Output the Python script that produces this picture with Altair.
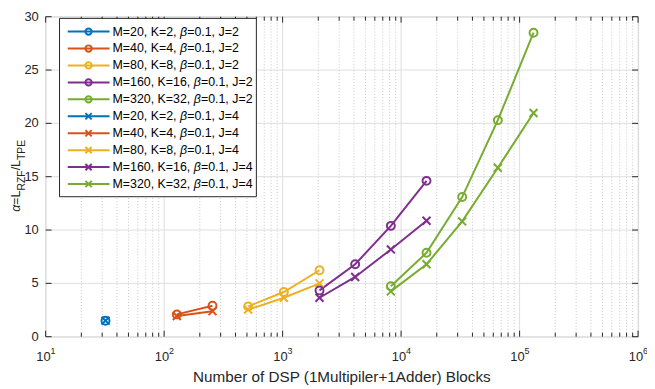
import altair as alt
import pandas as pd

# ---------------- data ----------------
series_keys = ["M=20, K=2", "M=40, K=4", "M=80, K=8", "M=160, K=16", "M=320, K=32"]
series_colors = ["#0072BD", "#D95319", "#EDB120", "#7E2F8E", "#77AC30"]

dsp_blue = [32]
alpha_blue_j2 = [1.5]
alpha_blue_j4 = [1.5]

dsp_orange = [128, 256]
alpha_orange_j2 = [2.09, 2.9]
alpha_orange_j4 = [1.94, 2.39]

dsp_yellow = [512, 1024, 2048]
alpha_yellow_j2 = [2.84, 4.19, 6.23]
alpha_yellow_j4 = [2.54, 3.65, 5.0]

dsp_purple = [2048, 4096, 8192, 16384]
alpha_purple_j2 = [4.34, 6.79, 10.39, 14.61]
alpha_purple_j4 = [3.65, 5.6, 8.18, 10.87]

dsp_green = [8192, 16384, 32768, 65536, 131072]
alpha_green_j2 = [4.73, 7.87, 13.09, 20.3, 28.5]
alpha_green_j4 = [4.25, 6.79, 10.81, 15.84, 20.97]

x_major_ticks = [10, 100, 1000, 10000, 100000, 1000000]
x_exponents = ["1", "2", "3", "4", "5", "6"]
x_minor_ticks = [k * 10 ** e for e in range(1, 6) for k in range(2, 10)]
y_ticks = [0, 5, 10, 15, 20, 25, 30]
x_title = "Number of DSP (1Multipiler+1Adder) Blocks"

# ---------------- build tables ----------------
CIRCLE = "circle"
XSHAPE = "M-1,-1L1,1M-1,1L1,-1"

all_dsp = [dsp_blue, dsp_orange, dsp_yellow, dsp_purple, dsp_green]
all_j2 = [alpha_blue_j2, alpha_orange_j2, alpha_yellow_j2, alpha_purple_j2, alpha_green_j2]
all_j4 = [alpha_blue_j4, alpha_orange_j4, alpha_yellow_j4, alpha_purple_j4, alpha_green_j4]

rows = []
for key, col, xs, a2, a4 in zip(series_keys, series_colors, all_dsp, all_j2, all_j4):
    for xv, yv in zip(xs, a2):
        rows.append({"series": key + " J2", "x": xv, "y": yv, "color": col, "shape": CIRCLE})
    for xv, yv in zip(xs, a4):
        rows.append({"series": key + " J4", "x": xv, "y": yv, "color": col, "shape": XSHAPE})
df = pd.DataFrame(rows)

# ---------------- layout constants ----------------
PAD_L, PAD_T, PAD_R, PAD_B = 38, 7, 9, 50
TOP = 8 + PAD_T          # page y of plot top
W, H = 598, 338 - TOP
TXT = "#262626"
GRID = "#dedede"
FONT = "Liberation Sans"
FS = 12.5

def py(page_y):
    return page_y - TOP

cw = {"M": 0.833, "=": 0.584, ",": 0.278, " ": 0.278, "K": 0.667, ".": 0.278, "J": 0.5}
for d in "0123456789":
    cw[d] = 0.556
def tw(s, fs):
    return sum(cw.get(c, 0.556) for c in s) * fs

xs_ = alt.Scale(type="log", domain=[10, 1000000], nice=False)
ys_ = alt.Scale(domain=[0, 30], nice=False, zero=False)

minor_df = pd.DataFrame({"v": x_minor_ticks})
major_df = pd.DataFrame({"v": x_major_ticks, "e": x_exponents})
yt_df = pd.DataFrame({"v": y_ticks})
one = pd.DataFrame({"a": [1]})

def X(f="v:Q"):
    return alt.X(f, scale=xs_, axis=None)
def Y(f="v:Q"):
    return alt.Y(f, scale=ys_, axis=None)

# grids
minor_grid = alt.Chart(minor_df).mark_rule(color="#c8c8c8", strokeDash=[1, 2], strokeWidth=1).encode(
    x=X(), y=alt.value(0), y2=alt.value(H))
x_grid = alt.Chart(major_df).mark_rule(color=GRID, strokeWidth=1).encode(
    x=X(), y=alt.value(0), y2=alt.value(H))
y_grid = alt.Chart(yt_df).mark_rule(color=GRID, strokeWidth=1).encode(
    y=Y(), x=alt.value(0), x2=alt.value(W))

# inward ticks
def xtick(d, length):
    b = alt.Chart(d).mark_rule(color=TXT, strokeWidth=1).encode(
        x=X(), y=alt.value(H), y2=alt.value(H - length))
    t = alt.Chart(d).mark_rule(color=TXT, strokeWidth=1).encode(
        x=X(), y=alt.value(0), y2=alt.value(length))
    return [b, t]

ytick_l = alt.Chart(yt_df).mark_rule(color=TXT, strokeWidth=1).encode(
    y=Y(), x=alt.value(0), x2=alt.value(6))
ytick_r = alt.Chart(yt_df).mark_rule(color=TXT, strokeWidth=1).encode(
    y=Y(), x=alt.value(W), x2=alt.value(W - 6))

# tick labels
x_lab = alt.Chart(major_df).mark_text(text="10", align="right", baseline="alphabetic", font=FONT,
                                      fontSize=13, color=TXT, dx=5).encode(
    x=X(), y=alt.value(py(362.7)))
x_sup = alt.Chart(major_df).mark_text(align="left", baseline="alphabetic", font=FONT,
                                      fontSize=9, color=TXT, dx=5).encode(
    x=X(), y=alt.value(py(355.5)), text="e:N")
y_lab = alt.Chart(yt_df).mark_text(align="right", baseline="middle", font=FONT,
                                   fontSize=13, color=TXT, dx=-7).encode(
    y=Y(), x=alt.value(0), text="v:Q")
x_tit = alt.Chart(one).mark_text(text=x_title, align="center", baseline="alphabetic", font=FONT,
                                 fontSize=15.4, color=TXT).encode(
    x=alt.value(W / 2), y=alt.value(py(383.3)))

lines = alt.Chart(df).mark_line(strokeWidth=2).encode(
    x=X("x:Q"), y=Y("y:Q"),
    color=alt.Color("color:N", scale=None),
    detail="series:N",
)
points = alt.Chart(df).mark_point(filled=False, strokeWidth=2, size=64, opacity=1).encode(
    x=X("x:Q"), y=Y("y:Q"),
    color=alt.Color("color:N", scale=None),
    shape=alt.Shape("shape:N", scale=None),
)

# ---------------- legend (drawn by hand) ----------------
legend_layers = [alt.Chart(one).mark_rect(fill="white", stroke=TXT, strokeWidth=1).encode(
    x=alt.value(14), x2=alt.value(212.7), y=alt.value(py(16.7)), y2=alt.value(py(196.7)))]
row0, dy = py(30.0), 17.1
tx0 = 67.5
i = 0
for j, shp in [(2, CIRCLE), (4, XSHAPE)]:
    for key, col in zip(series_keys, series_colors):
        ly = row0 + i * dy
        prefix = key + ", "
        xb = tx0 + tw(prefix, FS)
        legend_layers += [
            alt.Chart(one).mark_rule(color=col, strokeWidth=2).encode(
                x=alt.value(22.3), x2=alt.value(64.5), y=alt.value(ly)),
            alt.Chart(one).mark_point(filled=False, strokeWidth=2, size=40, opacity=1,
                                      color=col, shape=shp).encode(
                x=alt.value(43.3), y=alt.value(ly)),
            alt.Chart(one).mark_text(text=prefix, align="left", baseline="middle", font=FONT,
                                     fontSize=FS, color="#000000").encode(
                x=alt.value(tx0), y=alt.value(ly)),
            alt.Chart(one).mark_text(text="β", align="left", baseline="middle", font=FONT,
                                     fontSize=FS, fontStyle="italic", color="#000000").encode(
                x=alt.value(xb), y=alt.value(ly)),
            alt.Chart(one).mark_text(text="=0.1, J=%d" % j, align="left", baseline="middle",
                                     font=FONT, fontSize=FS, color="#000000").encode(
                x=alt.value(xb + 0.58 * FS), y=alt.value(ly)),
        ]
        i += 1

# ---------------- y title: alpha = L_RZF / L_TPE ----------------
def piece(txt, x, y, fs, italic=False):
    kw = dict(text=txt, angle=270, align="left", baseline="alphabetic", font=FONT, fontSize=fs, color=TXT)
    if italic:
        kw["fontStyle"] = "italic"
    return alt.Chart(one).mark_text(**kw).encode(x=alt.value(x), y=alt.value(y))

MF, SF = 12.5, 10.5
MX, SX = -26.0, -20.5
y0 = py(212)
w_alpha = 0.58 * MF
w_eqL = (0.584 + 0.556) * MF
w_rzf = (0.722 + 0.611 + 0.611) * SF
w_sl = (0.278 + 0.556) * MF
titles = [
    piece("α", MX, y0, MF, True),
    piece("=L", MX, y0 - w_alpha, MF),
    piece("RZF", SX, y0 - w_alpha - w_eqL, SF),
    piece("/L", MX, y0 - w_alpha - w_eqL - w_rzf, MF),
    piece("TPE", SX, y0 - w_alpha - w_eqL - w_rzf - w_sl, SF),
]

layers = ([x_grid, y_grid, minor_grid] + xtick(major_df, 6) + xtick(minor_df, 4)
          + [ytick_l, ytick_r, x_lab, x_sup, y_lab, x_tit, lines, points] + legend_layers + titles)

chart = alt.layer(*layers).properties(
    width=W, height=H,
    autosize=alt.AutoSizeParams(type="none"),
    padding={"left": PAD_L, "top": PAD_T, "right": PAD_R, "bottom": PAD_B},
).configure_view(stroke=TXT, strokeWidth=1).configure(background="white")

chart.save("out.html", embed_options={"renderer": "svg", "actions": False})
